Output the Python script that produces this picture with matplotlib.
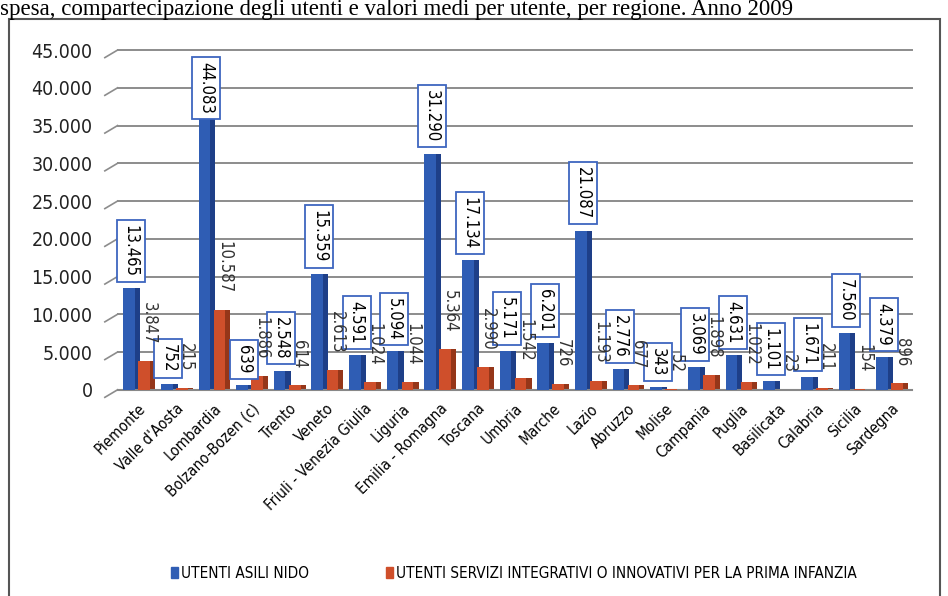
import matplotlib.pyplot as plt
import matplotlib.ticker as mticker
from matplotlib.patches import Rectangle
import numpy as np

plt.rcParams['font.family'] = ['DejaVu Sans']
plt.rcParams['font.stretch'] = 'condensed'

regioni = ["Piemonte", "Valle d'Aosta", "Lombardia", "Bolzano-Bozen (c)", "Trento",
           "Veneto", "Friuli - Venezia Giulia", "Liguria", "Emilia - Romagna", "Toscana",
           "Umbria", "Marche", "Lazio", "Abruzzo", "Molise", "Campania", "Puglia",
           "Basilicata", "Calabria", "Sicilia", "Sardegna"]
asili_nido = [13465, 752, 44083, 639, 2548, 15359, 4591, 5094, 31290, 17134,
              5171, 6201, 21087, 2776, 343, 3069, 4631, 1101, 1671, 7560, 4379]
servizi_integrativi = [3847, 215, 10587, 1886, 614, 2613, 1024, 1044, 5364, 2990,
                       1542, 726, 1193, 677, 52, 1898, 1022, 23, 211, 154, 896]
yticks = [0, 5000, 10000, 15000, 20000, 25000, 30000, 35000, 40000, 45000]

BLUE, BLUE_DARK = '#2F5DB4', '#1E3F88'
RED, RED_DARK = '#CF4F2B', '#953619'


def fmt(v):
    return f"{v:,}".replace(",", ".")


fig = plt.figure(figsize=(9.48, 5.96), dpi=100)
ax = fig.add_axes([0.124, 0.346, 0.838, 0.570])

x = np.arange(len(regioni))
w = 0.40
side = 0.09

# bars with a darker side strip for a 3D look
ax.bar(x - w / 2 + side / 2, asili_nido, w, color=BLUE_DARK, zorder=2)
ax.bar(x - w / 2 - side / 2, asili_nido, w - side, color=BLUE, zorder=3)
ax.bar(x + w / 2 + side / 2, servizi_integrativi, w, color=RED_DARK, zorder=2)
ax.bar(x + w / 2 - side / 2, servizi_integrativi, w - side, color=RED, zorder=3)

ax.set_xlim(-0.55, len(regioni) - 0.45)
ax.set_ylim(0, 45000)
ax.set_yticks(yticks)
ax.yaxis.set_major_formatter(mticker.FuncFormatter(lambda v, p: fmt(int(v))))
ax.tick_params(axis='y', length=0, labelsize=14, pad=18, labelcolor='#222222')
ax.set_xticks(x)
ax.set_xticklabels(regioni, rotation=45, ha='right', rotation_mode='anchor', fontsize=11)
ax.tick_params(axis='x', length=0, pad=8)

for s in ['top', 'right', 'left']:
    ax.spines[s].set_visible(False)
ax.spines['bottom'].set_color('#888888')
ax.spines['bottom'].set_linewidth(1.5)

# gridlines with a slanted back-wall edge on the left
trans = ax.get_yaxis_transform()
for t in yticks:
    ax.plot([0, 1], [t, t], color='#8C8C8C', lw=1.4, transform=trans, zorder=1, clip_on=False)
    ax.plot([-0.016, 0], [t - 1000, t], color='#8C8C8C', lw=1.2, transform=trans,
            zorder=1, clip_on=False)

# value labels: boxed for nidi, plain for servizi integrativi (drawn on top)
box = dict(boxstyle='square,pad=0.3', fc='white', ec='#3E66BF', lw=1.3)
for i, v in enumerate(asili_nido):
    if v > 40000:
        ax.annotate(fmt(v), (x[i] - w / 2, 43400), rotation=-90, ha='center', va='top',
                    fontsize=12, zorder=5, bbox=box)
    else:
        ax.annotate(fmt(v), (x[i] - w / 2, v), xytext=(0, 8), textcoords='offset points',
                    rotation=-90, ha='center', va='bottom', fontsize=12, zorder=5, bbox=box)
for i, v in enumerate(servizi_integrativi):
    ax.annotate(fmt(v), (x[i] + w / 2, v), xytext=(2, 12), textcoords='offset points',
                rotation=-90, ha='center', va='bottom', fontsize=12, color='#333333', zorder=6)

# outer frame and title line above it
fig.patches.append(Rectangle((0.009, -0.05), 0.983, 1.018, transform=fig.transFigure,
                             fill=False, ec='#555555', lw=1.5))
fig.text(0.0, 1 - 15 / 596, "spesa, compartecipazione degli utenti e valori medi per utente, "
         "per regione. Anno 2009", family=['Liberation Serif', 'DejaVu Serif'],
         fontstretch='normal', fontsize=16.5, va='baseline', ha='left')

handles = [Rectangle((0, 0), 1, 1, color=BLUE), Rectangle((0, 0), 1, 1, color=RED)]
fig.legend(handles, ["UTENTI ASILI NIDO",
                     "UTENTI SERVIZI INTEGRATIVI O INNOVATIVI PER LA PRIMA INFANZIA"],
           loc='center', bbox_to_anchor=(0.542, 1 - 573 / 596), ncol=2, frameon=False,
           handlelength=0.5, handleheight=0.7, handletextpad=0.2, columnspacing=5.0,
           fontsize=11)

fig.savefig('out.png', dpi=100)
